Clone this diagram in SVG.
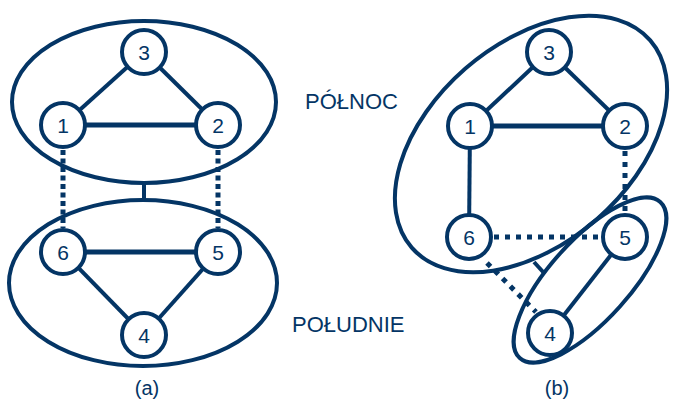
<svg xmlns="http://www.w3.org/2000/svg" width="676" height="401" viewBox="0 0 676 401">
<style>
.e{fill:none;stroke:#043565;stroke-width:4}
.n{fill:#fff;stroke:#043565;stroke-width:4}
.l{stroke:#043565;stroke-width:4;fill:none}
.h{stroke:#043565;stroke-width:5;fill:none}
.da{stroke:#043565;stroke-width:5;fill:none;stroke-dasharray:5 3.5}
.db{stroke:#043565;stroke-width:5;fill:none;stroke-dasharray:5 6}
.t{font-family:"Liberation Sans",Arial,sans-serif;font-size:21px;fill:#043565;text-anchor:middle}
.lab{font-family:"Liberation Sans",Arial,sans-serif;font-size:22px;fill:#043565}
</style>
<rect width="676" height="401" fill="#fff"/>
<g id="groups">
<ellipse id="north-a" class="e" cx="144" cy="102" rx="132" ry="81"/>
<ellipse id="south-a" class="e" cx="143" cy="283" rx="134" ry="83"/>
<ellipse id="north-b" class="e" cx="531" cy="144" rx="158" ry="100" transform="rotate(-41 531 144)"/>
<ellipse id="south-b" class="e" cx="590" cy="280" rx="105" ry="40" transform="rotate(-48 590 280)"/>
</g>
<g id="connectors">
<line class="l" x1="144" y1="183" x2="144" y2="200"/>
<line class="l" x1="144" y1="52" x2="63" y2="125"/>
<line class="l" x1="144" y1="52" x2="218" y2="125"/>
<line class="h" x1="63" y1="125" x2="218" y2="125"/>
<line class="h" x1="63" y1="252" x2="218" y2="252"/>
<line class="l" x1="63" y1="252" x2="144" y2="335"/>
<line class="l" x1="218" y1="252" x2="144" y2="335"/>
<line class="da" x1="63" y1="150" x2="63" y2="228"/>
<line class="da" x1="218" y1="150" x2="218" y2="228"/>
<line class="l" x1="534" y1="262" x2="544" y2="273"/>
<line class="l" x1="549" y1="52" x2="470" y2="126"/>
<line class="l" x1="549" y1="52" x2="625" y2="126"/>
<line class="h" x1="470" y1="126" x2="625" y2="126"/>
<line class="l" x1="470" y1="126" x2="469" y2="237"/>
<line class="l" x1="625" y1="237" x2="550" y2="333"/>
<line class="db" x1="625" y1="151" x2="625" y2="213"/>
<line class="db" x1="494" y1="237" x2="601" y2="237"/>
<line class="db" x1="487" y1="263" x2="536" y2="312"/>
</g>
<g id="n3a"><circle class="n" cx="144" cy="52" r="22"/><text class="t" x="144" y="59.5">3</text></g>
<g id="n1a"><circle class="n" cx="63" cy="125" r="22"/><text class="t" x="63" y="132.5">1</text></g>
<g id="n2a"><circle class="n" cx="218" cy="125" r="22"/><text class="t" x="218" y="132.5">2</text></g>
<g id="n6a"><circle class="n" cx="63" cy="252" r="22"/><text class="t" x="63" y="259.5">6</text></g>
<g id="n5a"><circle class="n" cx="218" cy="252" r="22"/><text class="t" x="218" y="259.5">5</text></g>
<g id="n4a"><circle class="n" cx="144" cy="335" r="22"/><text class="t" x="144" y="342.5">4</text></g>
<g id="n3b"><circle class="n" cx="549" cy="52" r="22"/><text class="t" x="549" y="59.5">3</text></g>
<g id="n1b"><circle class="n" cx="470" cy="126" r="22"/><text class="t" x="470" y="133.5">1</text></g>
<g id="n2b"><circle class="n" cx="625" cy="126" r="22"/><text class="t" x="625" y="133.5">2</text></g>
<g id="n6b"><circle class="n" cx="469" cy="237" r="22"/><text class="t" x="469" y="244.5">6</text></g>
<g id="n5b"><circle class="n" cx="625" cy="237" r="22"/><text class="t" x="625" y="244.5">5</text></g>
<g id="n4b"><circle class="n" cx="550" cy="333" r="22"/><text class="t" x="550" y="340.5">4</text></g>
<g id="labels">
<text class="lab" x="305" y="109">PÓŁNOC</text>
<text class="lab" x="292" y="332">POŁUDNIE</text>
<text class="t" x="147" y="395" style="font-size:20px">(a)</text>
<text class="t" x="557" y="395" style="font-size:20px">(b)</text>
</g>
</svg>
